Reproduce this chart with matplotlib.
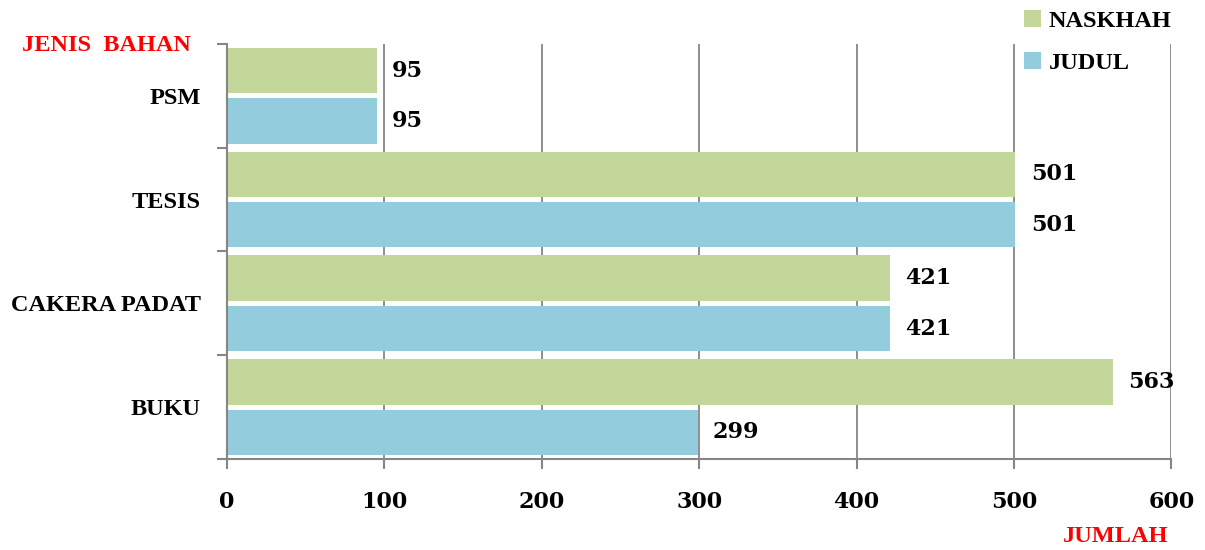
import numpy as np
import matplotlib.pyplot as plt

plt.rcParams['font.family'] = ['Liberation Serif', 'DejaVu Serif']
plt.rcParams['font.weight'] = 'bold'

# data
kategori = ['BUKU', 'CAKERA PADAT', 'TESIS', 'PSM']
naskhah = [563, 421, 501, 95]
judul = [299, 421, 501, 95]
xticks = [0, 100, 200, 300, 400, 500, 600]

hijau = '#C4D79B'
biru = '#93CDDD'
abu = '#868686'
fs = 17.5      # teks
fn = 16        # angka
angka = 'DejaVu Serif'

fig = plt.figure(figsize=(12.05, 5.5), dpi=100)
ax = fig.add_axes([0.1885, 0.1655, 0.7835, 0.7545])

y = np.arange(len(kategori))
h = 0.437
b1 = ax.barh(y + 0.243, naskhah, height=h, color=hijau, label='NASKHAH', zorder=2)
b2 = ax.barh(y - 0.243, judul, height=h, color=biru, label='JUDUL', zorder=2)

# label nilai
for bars, vals in [(b1, naskhah), (b2, judul)]:
    for r, v in zip(bars, vals):
        ax.annotate(str(v), (v, r.get_y() + r.get_height() / 2), xytext=(11, 0),
                    textcoords='offset points', va='center', ha='left',
                    fontsize=fn, fontweight='bold', family=angka)

ax.set_xlim(0, 600)
ax.set_ylim(-0.5, 3.5)
ax.set_xticks(xticks)
ax.set_xticklabels([str(t) for t in xticks], fontsize=fn, fontweight='bold', family=angka)
ax.tick_params(axis='x', length=7, width=1.5, color=abu, pad=16, direction='out')

ax.set_yticks(y)
ax.set_yticklabels(kategori, fontsize=fs, fontweight='bold')
ax.set_yticks(np.arange(-0.5, 4, 1), minor=True)
ax.tick_params(axis='y', which='major', length=0, pad=19)
ax.tick_params(axis='y', which='minor', length=7, width=1.5, color=abu, direction='out')

ax.grid(axis='x', color=abu, linewidth=1.3, zorder=0)
for s in ['top', 'right']:
    ax.spines[s].set_visible(False)
for s in ['left', 'bottom']:
    ax.spines[s].set_color(abu)
    ax.spines[s].set_linewidth(1.5)

fig.text(0.018, 0.917, 'JENIS  BAHAN', color='red', fontsize=fs, fontweight='bold', va='center')
fig.text(0.970, 0.024, 'JUMLAH', color='red', fontsize=fs, fontweight='bold', va='center', ha='right')

fig.legend(handles=[b1, b2], loc='upper left', bbox_to_anchor=(0.842, 1.0),
           borderaxespad=0, frameon=False, handlelength=0.7, handleheight=0.7,
           handletextpad=0.3, labelspacing=0.85, prop={'weight': 'bold', 'size': fs})

fig.savefig('out.png', dpi=100)
